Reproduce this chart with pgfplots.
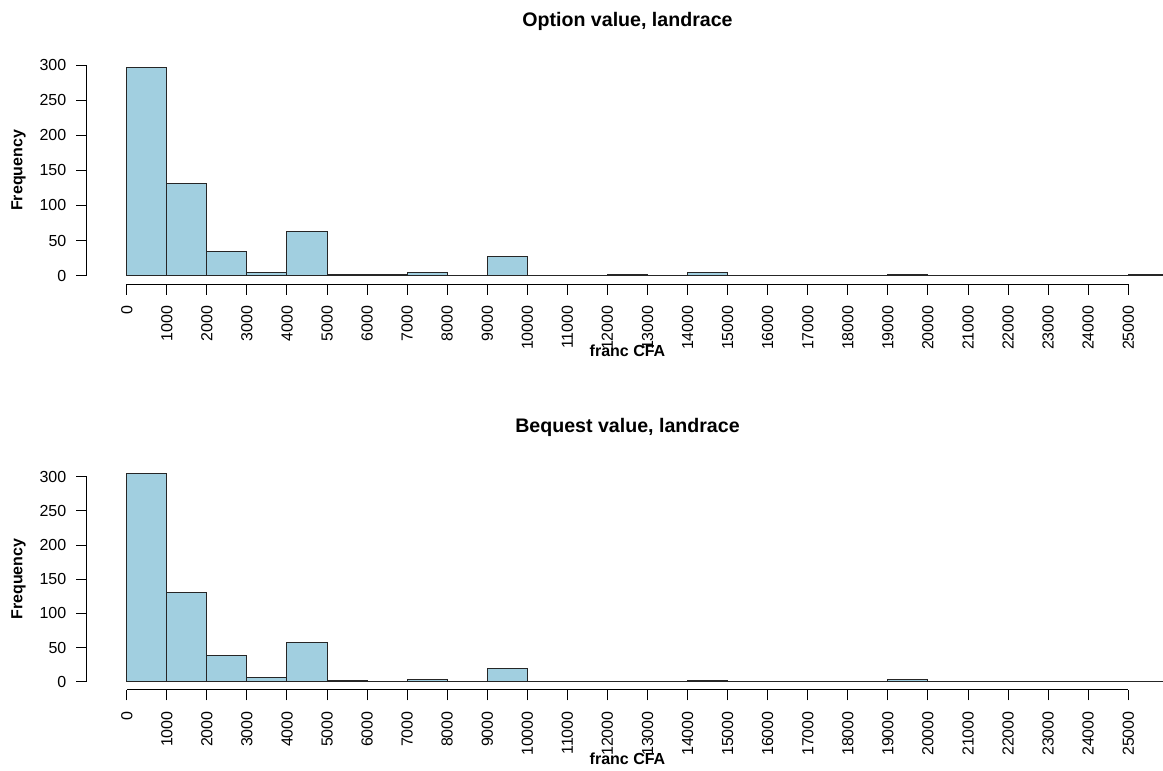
\documentclass[border=0pt]{standalone}
\usepackage{fontspec}
\setmainfont{Liberation Sans}
\usepackage{pgfplots}
\usepackage{pgfplotstable}
\pgfplotsset{compat=1.18}

\definecolor{histfill}{RGB}{161,207,224}

% bin left edges (1000 wide), counts per panel; last row closes the final bin
\pgfplotstableread{
x     option bequest
0     296    305
1000  131    130
2000  34     38
3000  4      6
4000  63     58
5000  2      2
6000  1      1
7000  4      3
8000  0      0
9000  27     20
10000 0      0
11000 0      0
12000 1      0
13000 0      0
14000 4      2
15000 0      0
16000 0      0
17000 0      0
18000 0      0
19000 1      3
20000 0      0
21000 0      0
22000 0      0
23000 0      0
24000 0      1
25000 1      0
26000 0      0
}\bins

\pgfplotsset{rhist/.style={
    scale only axis, width=540.8pt,
    xmin=-1000, xmax=26000, ymin=-12, ymax=312,
    clip=false,
    axis lines*=left, axis line style={draw=none},
    xtick={0,1000,...,25000}, ytick={0,50,...,300},
    tick align=outside, major tick length=5.25pt,
    tick style={black, line width=0.5pt},
    xticklabel style={rotate=90, anchor=east, inner sep=0pt},
    yticklabel style={anchor=east, inner sep=0pt},
    xticklabel shift=5.25pt, yticklabel shift=4.75pt,
    scaled x ticks=false, scaled y ticks=false,
    /pgf/number format/1000 sep={},
    /pgf/number format/assume math mode=true,
    ticklabel style={font=\fontsize{8}{9.6}\selectfont},
    label style={font=\bfseries\fontsize{8}{9.6}\selectfont},
    xlabel={franc CFA}, ylabel={Frequency},
    xlabel style={at={(axis description cs:0.5,0)}, anchor=base},
    ylabel style={at={(axis description cs:-0.0631,0.5)}, anchor=center},
    title style={font=\bfseries\fontsize{9.8}{11.8}\selectfont,
        at={(axis description cs:0.5,1)}, anchor=base},
}}

\begin{document}
\begin{tikzpicture}
\useasboundingbox (0,0) rectangle (581.5pt,-385.5pt);

\begin{axis}[rhist, height=113.75pt,
    at={(43.35pt,-28.3pt)}, anchor=north west,
    xlabel style={yshift=-36pt},
    title={Option value, landrace}, title style={yshift=9pt}]
\addplot[ybar interval, fill=histfill, draw=black!85, line width=0.5pt]
    table[x=x, y=option] {\bins};
\draw[line width=0.5pt] (axis cs:0,-12) -- (axis cs:25000,-12);
\draw[line width=0.5pt] (axis cs:-1000,0) -- (axis cs:-1000,300);
\end{axis}

\begin{axis}[rhist, height=110.7pt,
    at={(43.35pt,-234.25pt)}, anchor=north west,
    xlabel style={yshift=-37.5pt},
    title={Bequest value, landrace}, title style={yshift=12.1pt}]
\addplot[ybar interval, fill=histfill, draw=black!85, line width=0.5pt]
    table[x=x, y=bequest] {\bins};
\draw[line width=0.5pt] (axis cs:0,-12) -- (axis cs:25000,-12);
\draw[line width=0.5pt] (axis cs:-1000,0) -- (axis cs:-1000,300);
\end{axis}
\end{tikzpicture}
\end{document}
